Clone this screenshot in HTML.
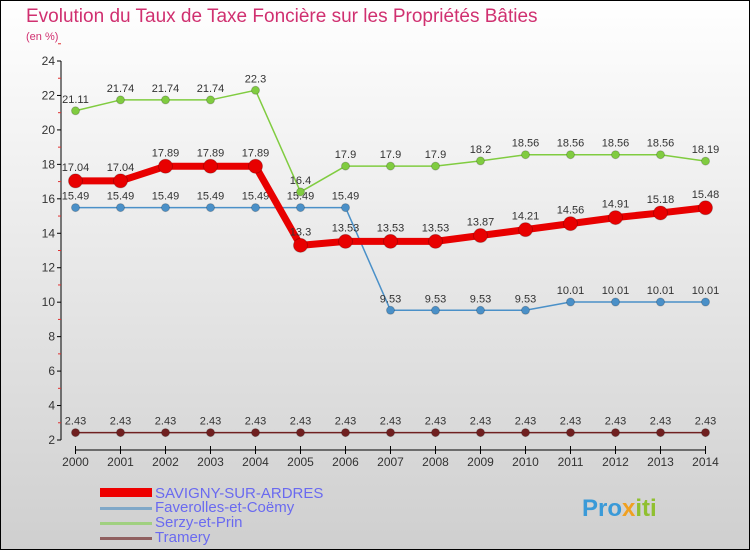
<!DOCTYPE html>
<html><head><meta charset="utf-8"><style>
body{margin:0;width:750px;height:550px;overflow:hidden;font-family:"Liberation Sans",sans-serif}
</style></head><body>
<svg width="750" height="550" xmlns="http://www.w3.org/2000/svg">
<defs><linearGradient id="bg" x1="0" y1="0" x2="0" y2="1"><stop offset="0" stop-color="#ffffff"/><stop offset="1" stop-color="#cfcfcf"/></linearGradient></defs>
<rect x="0.5" y="0.5" width="749" height="549" fill="url(#bg)" stroke="#000"/>
<text x="26" y="22" font-size="19" fill="#d03070">Evolution du Taux de Taxe Foncière sur les Propriétés Bâties</text>
<text x="26" y="40" font-size="11" fill="#d03070">(en %)</text>
<g id="axes"></g>
<g id="series"></g>
<g id="legend">
<rect x="100" y="488" width="52" height="9" fill="#e00"/>
<text x="155" y="498" font-size="15" fill="#6a6af0">SAVIGNY-SUR-ARDRES</text>
<rect x="100" y="507" width="52" height="3" fill="#80a8c8"/>
<text x="155" y="512" font-size="15" fill="#6a6af0">Faverolles-et-Coëmy</text>
<rect x="100" y="522" width="52" height="3" fill="#a0d080"/>
<text x="155" y="527" font-size="15" fill="#6a6af0">Serzy-et-Prin</text>
<rect x="100" y="537" width="52" height="3" fill="#906060"/>
<text x="155" y="542" font-size="15" fill="#6a6af0">Tramery</text>
</g>
<text x="582" y="516" font-size="24" font-weight="bold" fill="#3a9ad8">Pro<tspan fill="#f0a020">x</tspan><tspan fill="#90c030">iti</tspan></text>
</svg>
<script>
const years=[2000,2001,2002,2003,2004,2005,2006,2007,2008,2009,2010,2011,2012,2013,2014];
const yTicks=[2,4,6,8,10,12,14,16,18,20,22,24];
const savigny=[17.04,17.04,17.89,17.89,17.89,13.3,13.53,13.53,13.53,13.87,14.21,14.56,14.91,15.18,15.48];
const faverolles=[15.49,15.49,15.49,15.49,15.49,15.49,15.49,9.53,9.53,9.53,9.53,10.01,10.01,10.01,10.01];
const serzy=[21.11,21.74,21.74,21.74,22.3,16.4,17.9,17.9,17.9,18.2,18.56,18.56,18.56,18.56,18.19];
const tramery=[2.43,2.43,2.43,2.43,2.43,2.43,2.43,2.43,2.43,2.43,2.43,2.43,2.43,2.43,2.43];
const NS="http://www.w3.org/2000/svg";
const xS=i=>75.5+i*45;
const yS=v=>440-(v-2)*(379/22);
function mk(t,a,p){const e=document.createElementNS(NS,t);for(const k in a)e.setAttribute(k,a[k]);p.appendChild(e);return e;}
const ax=document.getElementById('axes');
let l=mk('line',{x1:61,y1:61,x2:61,y2:440,stroke:'#000'},ax);


yTicks.forEach(v=>{
 mk('line',{x1:57,x2:61,y1:yS(v),y2:yS(v),stroke:'#000'},ax);
 mk('line',{x1:58,x2:61,y1:yS(v+1),y2:yS(v+1),stroke:'#e03030'},ax);
 const t=mk('text',{x:55,y:yS(v)+4,'font-size':12,'text-anchor':'end',fill:'#333'},ax);
 t.textContent=v;
 
 
});
l=mk('line',{x1:75,y1:450,x2:706,y2:450,stroke:'#000'},ax);


years.forEach((y,i)=>{
 mk('line',{x1:xS(i),x2:xS(i),y1:446,y2:454,stroke:'#000'},ax);
 const t=mk('text',{x:xS(i),y:466,'font-size':12,'text-anchor':'middle',fill:'#333'},ax);
 t.textContent=y;
 
 
});
const sg=document.getElementById('series');
function draw(data,color,w,r,name,labelDy){
 const g=mk('g',{},sg);
 
 
 const p=mk('polyline',{points:data.map((v,i)=>xS(i)+','+yS(v)).join(' '),fill:'none',stroke:color,'stroke-width':w,'stroke-linejoin':'round'},g);
 
 
 data.forEach((v,i)=>{
  const c=mk('circle',{cx:xS(i),cy:yS(v),r:r,fill:color,stroke:'#0003'},g);
  
  
  const t=mk('text',{x:xS(i),y:yS(v)+labelDy,'font-size':11,'text-anchor':'middle',fill:'#333'},g);
  t.textContent=v;
  
  
 });
}
draw(tramery,'#702020',1.5,4,'tramery',-8);
draw(faverolles,'#4a90c8',1.5,4,'faverolles',-8);
draw(serzy,'#80cc40',1.5,4,'serzy',-8);
draw(savigny,'#e80000',7,7,'savigny',-10);
</script>
</body></html>
